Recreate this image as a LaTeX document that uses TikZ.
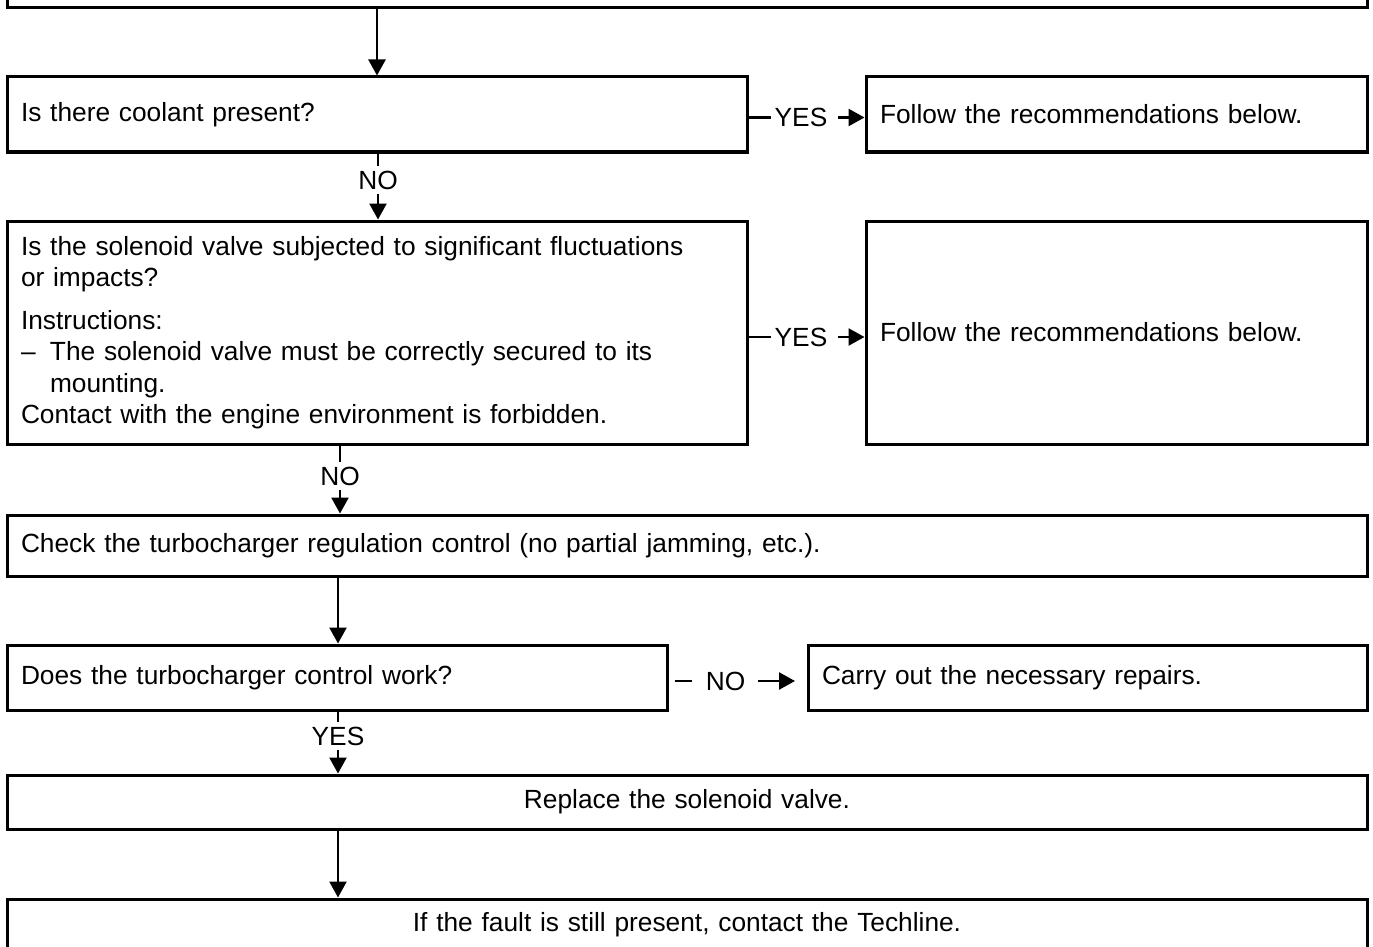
\documentclass[tikz,border=0pt]{standalone}
\usepackage{fontspec}
\setmainfont{Liberation Sans}
\usetikzlibrary{arrows.meta,calc}
\tikzset{>={Triangle[length=16pt,width=17pt]},
	box/.style={draw=black,line width=3pt,inner xsep=14pt,inner ysep=0pt,font=\fontsize{26.3}{31.5}\selectfont},
	lbox/.style={box,align=left},
	cbox/.style={box,align=center},
	gap/.style={inner xsep=3pt,inner ysep=4pt,font=\fontsize{26.3}{31.5}\selectfont},
	link/.style={line width=2.5pt}}

\begin{document}
\begin{tikzpicture}[x=1pt,y=-1pt]
	\useasboundingbox (0,0) rectangle (1373,947);
	\node (top) at (687,-30) [box,minimum width=1360,minimum height=75] {};
	\node (coolant) at (377,114.5) [lbox,text width=712pt,minimum height=75] {Is there coolant present?};
	\node (follow1) at (1116.5,114.5) [lbox,text width=473pt,minimum height=75] {Follow the recommendations below.};
	\node (solenoid) at (377,332.5) [lbox,text width=712pt,minimum height=223] {Is the solenoid valve subjected to significant fluctuations\\
		or impacts?\\[11pt]
		Instructions:\\
		\makebox[29pt][l]{--}The solenoid valve must be correctly secured to its\\
		\hspace*{29pt}mounting.\\
		Contact with the engine environment is forbidden.};
	\node (follow2) at (1116.5,332.5) [lbox,text width=473pt,minimum height=223] {Follow the recommendations below.};
	\node (check) at (687,545.5) [lbox,text width=1332pt,minimum height=61] {Check the turbocharger regulation control (no partial jamming, etc.).};
	\node (does) at (337,677.5) [lbox,text width=632pt,minimum height=65] {Does the turbocharger control work?};
	\node (carry) at (1087.5,677.5) [lbox,text width=531pt,minimum height=65] {Carry out the necessary repairs.};
	\node (replace) at (687,802) [cbox,text width=1332pt,minimum height=54] {Replace the solenoid valve.};
	\node (final) at (687,925) [cbox,text width=1332pt,minimum height=52] {If the fault is still present, contact the Techline.};
	\node (yes1) at (801,117.5) [gap] {YES};
	\node (yes2) at (801,337) [gap] {YES};
	\node (no1) at (378,180) [gap] {NO};
	\node (no2) at (340,476) [gap] {NO};
	\node (no3) at (725.5,681) [gap] {NO};
	\node (yes3) at (338,736) [gap] {YES};
	\draw [link,->] (coolant.north |- top.south) -- (coolant.north);
	\draw [link] (coolant.east |- yes1) -- (yes1.west);
	\draw [link,->] ($(yes1.east)+(7,0)$) -- (follow1.west |- yes1);
	\draw [link] (coolant.south -| no1) -- (no1.north);
	\draw [link,->] (no1.south) -- (solenoid.north -| no1);
	\draw [link] (solenoid.east |- yes2) -- (yes2.west);
	\draw [link,->] ($(yes2.east)+(7,0)$) -- (follow2.west |- yes2);
	\draw [link] (solenoid.south -| no2) -- (no2.north);
	\draw [link,->] (no2.south) -- (check.north -| no2);
	\draw [link,->] (check.south -| yes3) -- (does.north -| yes3);
	\draw [link] ($(does.east |- no3)+(6,0)$) -- ($(no3.west)+(-11,0)$);
	\draw [link,->] ($(no3.east)+(10,0)$) -- ($(carry.west |- no3)+(-11.5,0)$);
	\draw [link] (does.south -| yes3) -- (yes3.north);
	\draw [link,->] (yes3.south) -- (replace.north -| yes3);
	\draw [link,->] (replace.south -| yes3) -- (final.north -| yes3);
\end{tikzpicture}
\end{document}
